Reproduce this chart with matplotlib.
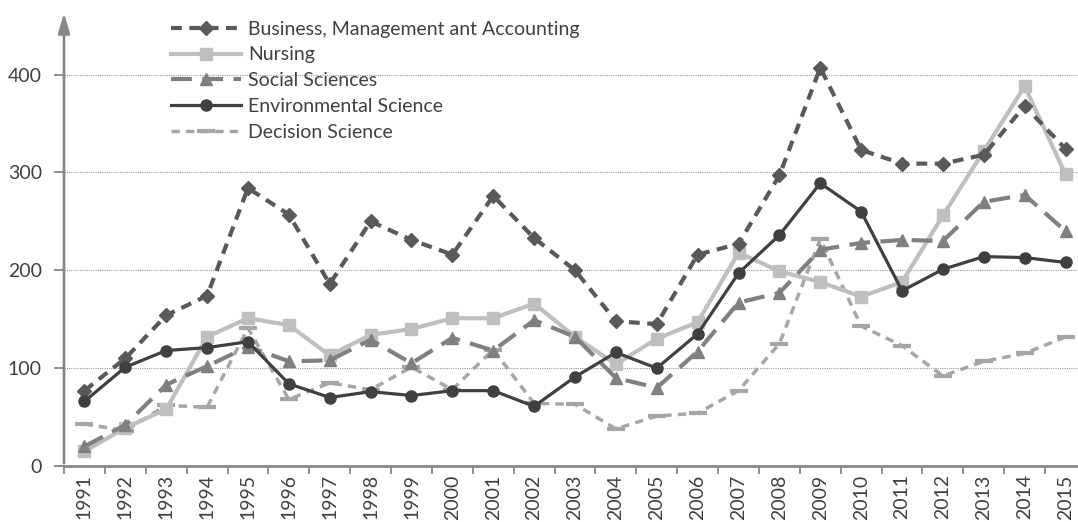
import numpy as np
import matplotlib.pyplot as plt

years = [str(y) for y in range(1991, 2016)]
business = [77, 110, 154, 174, 284, 257, 186, 250, 231, 216, 276, 233, 200, 148, 145,
            216, 227, 297, 407, 323, 309, 309, 318, 368, 324]
nursing = [15, 39, 58, 132, 151, 144, 113, 134, 140, 151, 151, 166, 132, 104, 130,
           147, 218, 199, 188, 173, 188, 256, 322, 388, 298]
social = [20, 42, 83, 102, 122, 107, 108, 129, 105, 131, 118, 149, 132, 90, 80,
          117, 167, 177, 221, 228, 231, 230, 270, 277, 240]
environ = [66, 101, 118, 121, 127, 84, 70, 76, 72, 77, 77, 61, 91, 116, 100,
           135, 197, 236, 289, 260, 179, 201, 214, 213, 208]
decision = [43, 36, 62, 60, 141, 68, 85, 78, 101, 78, 119, 64, 63, 38, 51,
            54, 77, 125, 232, 143, 123, 92, 107, 115, 132]

plt.rcParams['font.family'] = ['Lato', 'DejaVu Sans']
txt = '#404040'

fig = plt.figure(figsize=(10.78, 5.22), dpi=100)
ax = fig.add_axes([64 / 1078, 56 / 522, 1022 / 1078, 456 / 522])
x = np.arange(len(years))

ax.plot(x, business, color='#595959', lw=3, ls=(0, (2.6, 1.8)), marker='D', ms=7.5,
        label='Business, Management ant Accounting', zorder=5)
ax.plot(x, nursing, color='#bfbfbf', lw=3, marker='s', ms=9, label='Nursing', zorder=3)
ax.plot(x, social, color='#808080', lw=3, ls=(0, (5, 2.5)), marker='^', ms=9,
        label='Social Sciences', zorder=4)
ax.plot(x, environ, color='#404040', lw=2.3, marker='o', ms=8, label='Environmental Science', zorder=6)
ax.plot(x, decision, color='#a6a6a6', lw=2.5, ls=(0, (2.4, 1.8)), marker='_', ms=13, mew=3,
        label='Decision Science', zorder=2)

ax.set_xlim(-0.5, len(years) - 0.5)
ax.set_ylim(0, 466)
ax.set_yticks([0, 100, 200, 300, 400])
ax.set_xticks(x)
ax.set_xticklabels(years, rotation=90, fontsize=14, color=txt)
ax.set_xticks(np.arange(-0.5, len(years)), minor=True)
ax.tick_params(axis='x', which='major', length=0, pad=6)
ax.tick_params(axis='x', which='minor', length=6, color='#888888', width=1.3, direction='out')
ax.tick_params(axis='y', length=7, color='#888888', width=1.3, labelsize=14, labelcolor=txt, pad=9)

for s in ['top', 'right', 'left']:
    ax.spines[s].set_visible(False)
ax.spines['bottom'].set_color('#888888')
ax.spines['bottom'].set_linewidth(2)
ax.annotate('', xy=(0, 1.0), xytext=(0, 0), xycoords='axes fraction',
            arrowprops=dict(arrowstyle='-|>,head_length=1.2,head_width=0.35', color='#888888', lw=2),
            annotation_clip=False)

ax.yaxis.grid(True, ls=(0, (1, 1)), color='#999999', lw=0.8)
ax.set_axisbelow(True)

ax.legend(loc='upper left', bbox_to_anchor=(161 / 1078, 1 - 11 / 522), bbox_transform=fig.transFigure,
          frameon=False, fontsize=14, handlelength=3.6, handletextpad=0.4, labelspacing=0.45,
          borderpad=0, labelcolor=txt)

fig.savefig('out.png', dpi=100)
